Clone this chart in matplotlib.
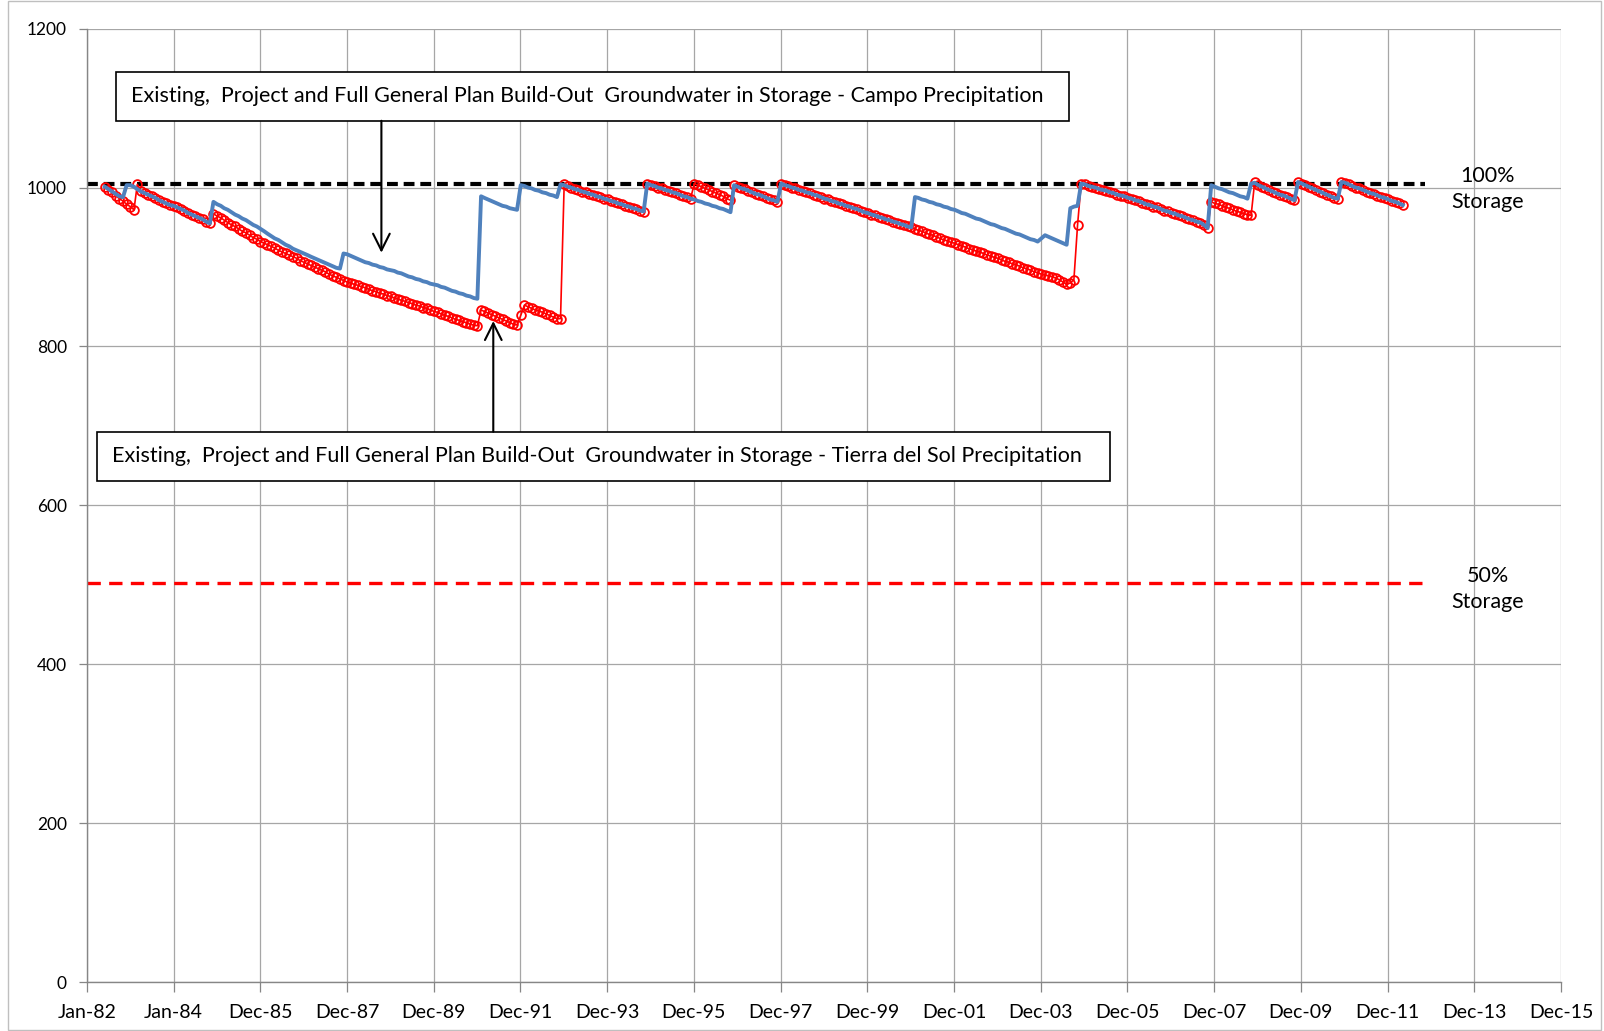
import numpy as np
import pandas as pd
import matplotlib
matplotlib.use("Agg")
import matplotlib.pyplot as plt
import matplotlib.transforms as mtransforms
from matplotlib.patches import Rectangle

plt.rcParams['font.family'] = ['Lato', 'DejaVu Sans']

# ------------------------------------------------------------
# Datos: almacenamiento mensual (AF), jun-1982 a may-2012
# ------------------------------------------------------------
meses = pd.date_range("1982-06-01", periods=360, freq="MS")

# Campo (linea azul), una fila por anio calendario
campo = (
    [1001, 998, 995, 992, 989, 988, 1003]                                   # 1982
    + [1003, 1001, 998, 995, 993, 991, 989, 987, 984, 982, 980, 978]        # 1983
    + [977, 975, 973, 971, 968, 966, 964, 962, 960, 957, 955, 982]          # 1984
    + [979, 977, 974, 972, 969, 966, 964, 961, 959, 956, 953, 951]          # 1985
    + [948, 945, 942, 939, 936, 934, 931, 928, 926, 923, 921, 919]          # 1986
    + [917, 915, 913, 911, 909, 907, 905, 903, 901, 899, 898, 917]          # 1987
    + [916, 914, 912, 910, 908, 906, 905, 903, 902, 900, 899, 897]          # 1988
    + [896, 895, 893, 892, 890, 888, 887, 885, 884, 882, 881, 879]          # 1989
    + [878, 877, 875, 874, 872, 870, 869, 867, 866, 864, 863, 861]          # 1990
    + [860, 989, 987, 985, 983, 981, 979, 977, 976, 974, 973, 972]          # 1991
    + [1003, 1002, 1000, 999, 997, 996, 994, 993, 991, 990, 988, 1004]      # 1992
    + [1003, 1001, 1000, 998, 997, 995, 994, 992, 991, 989, 988, 986]       # 1993
    + [985, 983, 982, 980, 979, 977, 976, 974, 973, 971, 970, 1005]         # 1994
    + [1003, 1002, 1000, 999, 997, 996, 994, 993, 991, 989, 988, 986]       # 1995
    + [985, 983, 982, 980, 979, 977, 976, 974, 973, 971, 969, 1003]         # 1996
    + [1001, 999, 998, 996, 994, 992, 991, 989, 987, 985, 984, 982]         # 1997
    + [1005, 1003, 1002, 1000, 999, 997, 996, 994, 993, 991, 990, 988]      # 1998
    + [986, 985, 983, 982, 980, 979, 977, 976, 974, 973, 971, 969]          # 1999
    + [968, 966, 965, 963, 962, 960, 959, 957, 956, 954, 953, 951]          # 2000
    + [950, 988, 987, 985, 984, 982, 981, 979, 978, 976, 975, 973]          # 2001
    + [972, 970, 968, 967, 965, 963, 961, 960, 958, 956, 954, 953]          # 2002
    + [951, 949, 948, 946, 944, 942, 941, 939, 937, 935, 934, 932]          # 2003
    + [936, 940, 938, 936, 934, 932, 930, 928, 974, 976, 977, 1005]         # 2004
    + [1004, 1002, 1001, 1000, 998, 997, 996, 994, 993, 991, 990, 989]      # 2005
    + [987, 986, 984, 983, 981, 979, 978, 976, 975, 973, 971, 970]          # 2006
    + [968, 967, 965, 964, 962, 960, 959, 957, 956, 953, 949, 1003]         # 2007
    + [1001, 999, 998, 996, 994, 993, 991, 989, 988, 986, 1005, 1006]       # 2008
    + [1003, 1001, 999, 997, 995, 993, 991, 990, 988, 986, 984, 1007]       # 2009
    + [1005, 1003, 1001, 999, 997, 995, 993, 991, 989, 987, 986, 1007]      # 2010
    + [1006, 1004, 1002, 1000, 999, 997, 995, 993, 992, 990, 988, 987]      # 2011
    + [985, 983, 982, 980, 978]                                             # 2012
)

# Tierra del Sol (linea roja con circulos)
tierra = (
    [1001, 997, 994, 990, 986, 983, 979]                                    # 1982
    + [976, 972, 1004, 996, 993, 991, 989, 987, 984, 982, 980, 978]         # 1983
    + [977, 975, 973, 971, 968, 966, 964, 962, 960, 957, 955, 967]          # 1984
    + [964, 962, 959, 956, 953, 951, 948, 945, 943, 940, 937, 935]          # 1985
    + [932, 930, 928, 926, 924, 921, 919, 917, 915, 913, 911, 908]          # 1986
    + [906, 904, 902, 900, 898, 896, 894, 891, 889, 887, 885, 883]          # 1987
    + [881, 880, 878, 877, 875, 874, 872, 870, 869, 867, 866, 864]          # 1988
    + [863, 861, 860, 858, 857, 855, 854, 852, 851, 849, 848, 846]          # 1989
    + [844, 843, 841, 839, 838, 836, 834, 833, 831, 830, 828, 827]          # 1990
    + [826, 846, 844, 842, 840, 838, 836, 834, 832, 830, 828, 827]          # 1991
    + [839, 852, 850, 848, 846, 845, 843, 841, 839, 837, 835, 835]          # 1992
    + [1005, 1002, 1000, 998, 997, 995, 994, 992, 991, 989, 988, 986]       # 1993
    + [985, 983, 982, 980, 979, 977, 976, 974, 973, 971, 969, 1004]         # 1994
    + [1003, 1002, 1000, 999, 997, 996, 994, 993, 991, 989, 988, 986]       # 1995
    + [1005, 1003, 1001, 999, 997, 995, 993, 991, 989, 986, 984, 1003]      # 1996
    + [1001, 999, 998, 996, 994, 992, 991, 989, 987, 985, 984, 982]         # 1997
    + [1005, 1003, 1002, 1000, 999, 997, 996, 994, 993, 991, 990, 988]      # 1998
    + [986, 985, 983, 982, 980, 979, 977, 976, 974, 973, 971, 969]          # 1999
    + [968, 966, 965, 963, 962, 960, 959, 957, 956, 954, 953, 951]          # 2000
    + [950, 948, 946, 945, 943, 941, 940, 938, 936, 934, 933, 931]          # 2001
    + [930, 928, 927, 925, 923, 922, 920, 919, 917, 915, 914, 912]          # 2002
    + [911, 909, 907, 906, 904, 903, 901, 899, 898, 896, 894, 893]          # 2003
    + [891, 890, 889, 888, 886, 884, 881, 878, 880, 884, 953, 1005]         # 2004
    + [1004, 1002, 1001, 1000, 998, 997, 996, 994, 993, 991, 990, 989]      # 2005
    + [987, 986, 984, 983, 981, 979, 978, 976, 975, 973, 971, 970]          # 2006
    + [968, 967, 965, 964, 962, 960, 959, 957, 956, 953, 949, 982]          # 2007
    + [980, 979, 977, 975, 974, 972, 970, 969, 967, 966, 965, 1007]         # 2008
    + [1003, 1001, 999, 997, 995, 993, 991, 990, 988, 986, 984, 1007]       # 2009
    + [1005, 1003, 1001, 999, 997, 995, 993, 991, 989, 987, 986, 1007]      # 2010
    + [1006, 1004, 1002, 1000, 999, 997, 995, 993, 992, 990, 988, 987]      # 2011
    + [985, 983, 982, 980, 978]                                             # 2012
)

# Lineas de referencia (100% y 50% de almacenamiento)
almac_100 = 1004
almac_50 = 502
ref_inicio = pd.Timestamp("1982-01-01")
ref_fin = pd.Timestamp("2012-11-01")

# Eje X: marcas cada 730 dias, como en Excel
eje_inicio = pd.Timestamp("1982-01-01")
marcas_x = [eje_inicio + pd.Timedelta(days=730 * k) for k in range(18)]
etiquetas_x = ["Jan-82", "Jan-84", "Dec-85", "Dec-87", "Dec-89", "Dec-91",
               "Dec-93", "Dec-95", "Dec-97", "Dec-99", "Dec-01", "Dec-03",
               "Dec-05", "Dec-07", "Dec-09", "Dec-11", "Dec-13", "Dec-15"]
marcas_y = [0, 200, 400, 600, 800, 1000, 1200]

texto_campo = ("Existing,  Project and Full General Plan Build-Out  "
               "Groundwater in Storage - Campo Precipitation")
texto_tierra = ("Existing,  Project and Full General Plan Build-Out  "
                "Groundwater in Storage - Tierra del Sol Precipitation")

# puntas de las flechas (fecha, valor)
flecha_campo = (pd.Timestamp("1988-10-15"), 918)
flecha_tierra = (pd.Timestamp("1991-05-15"), 832)

# ------------------------------------------------------------
# Figura
# ------------------------------------------------------------
fig = plt.figure(figsize=(16.04, 10.31), dpi=100)
ax = fig.add_axes([0.0542, 0.0475, 0.9190, 0.9247])

gris = "#a6a6a6"
ax.set_xlim(eje_inicio, marcas_x[-1])
ax.set_ylim(0, 1200)
ax.set_xticks(marcas_x)
ax.set_xticklabels(etiquetas_x)
ax.set_yticks(marcas_y)
ax.set_yticklabels([str(v) for v in marcas_y])
ax.grid(True, color=gris, lw=0.9)
ax.set_axisbelow(True)
for lado in ["top", "right"]:
    ax.spines[lado].set_visible(False)
for lado in ["left", "bottom"]:
    ax.spines[lado].set_color("#868686")
    ax.spines[lado].set_linewidth(1.0)
ax.tick_params(axis="x", direction="out", length=7, width=0.9, color="#868686",
               pad=9, labelsize=14)
ax.tick_params(axis="y", direction="out", length=5.5, width=0.9, color="#868686",
               pad=9, labelsize=12.5)

# lineas de referencia
l100, = ax.plot([ref_inicio, ref_fin], [almac_100, almac_100], color="black", lw=3)
l100.set_dashes([2.6, 1.4])
l50, = ax.plot([ref_inicio, ref_fin], [almac_50, almac_50], color="red", lw=2.4)
l50.set_dashes([4.0, 2.5])

# series
ax.plot(meses, tierra, color="red", lw=1.2, marker="o", ms=6.3, mfc="none",
        mec="red", mew=1.3)
ax.plot(meses, campo, color="#4F81BD", lw=2.8)

# etiquetas de almacenamiento
trans = mtransforms.blended_transform_factory(ax.transAxes, ax.transData)
ax.text(0.9505, 998, "100%\nStorage", transform=trans, ha="center", va="center",
        fontsize=15.5, linespacing=1.4)
ax.text(0.9505, 495, "50%\nStorage", transform=trans, ha="center", va="center",
        fontsize=15.5, linespacing=1.4)

# cuadros de texto
ax.add_patch(Rectangle((0.0194, 0.9034), 0.6468, 0.0515, transform=ax.transAxes,
                       facecolor="white", edgecolor="black", lw=1.2, zorder=5))
ax.text(0.0299, 0.9291, texto_campo, transform=ax.transAxes, ha="left",
        va="center", fontsize=15.5, zorder=6)
ax.add_patch(Rectangle((0.0068, 0.5257), 0.6872, 0.0515, transform=ax.transAxes,
                       facecolor="white", edgecolor="black", lw=1.2, zorder=5))
ax.text(0.0173, 0.5514, texto_tierra, transform=ax.transAxes, ha="left",
        va="center", fontsize=15.5, zorder=6)

# flechas
ax.annotate("", xy=flecha_campo, xycoords="data",
            xytext=(flecha_campo[0], 0.9034),
            textcoords=("data", "axes fraction"),
            arrowprops=dict(arrowstyle="->", color="black", lw=1.5,
                            mutation_scale=30, shrinkA=0, shrinkB=0), zorder=6)
ax.annotate("", xy=flecha_tierra, xycoords="data",
            xytext=(flecha_tierra[0], 0.5772),
            textcoords=("data", "axes fraction"),
            arrowprops=dict(arrowstyle="->", color="black", lw=1.5,
                            mutation_scale=30, shrinkA=0, shrinkB=0), zorder=6)

# borde del area del grafico
fig.patches.append(Rectangle((0.005, 0.001), 0.993, 0.998, transform=fig.transFigure,
                             fill=False, edgecolor="#bfbfbf", lw=1.0))

fig.savefig("out.png", dpi=100)
